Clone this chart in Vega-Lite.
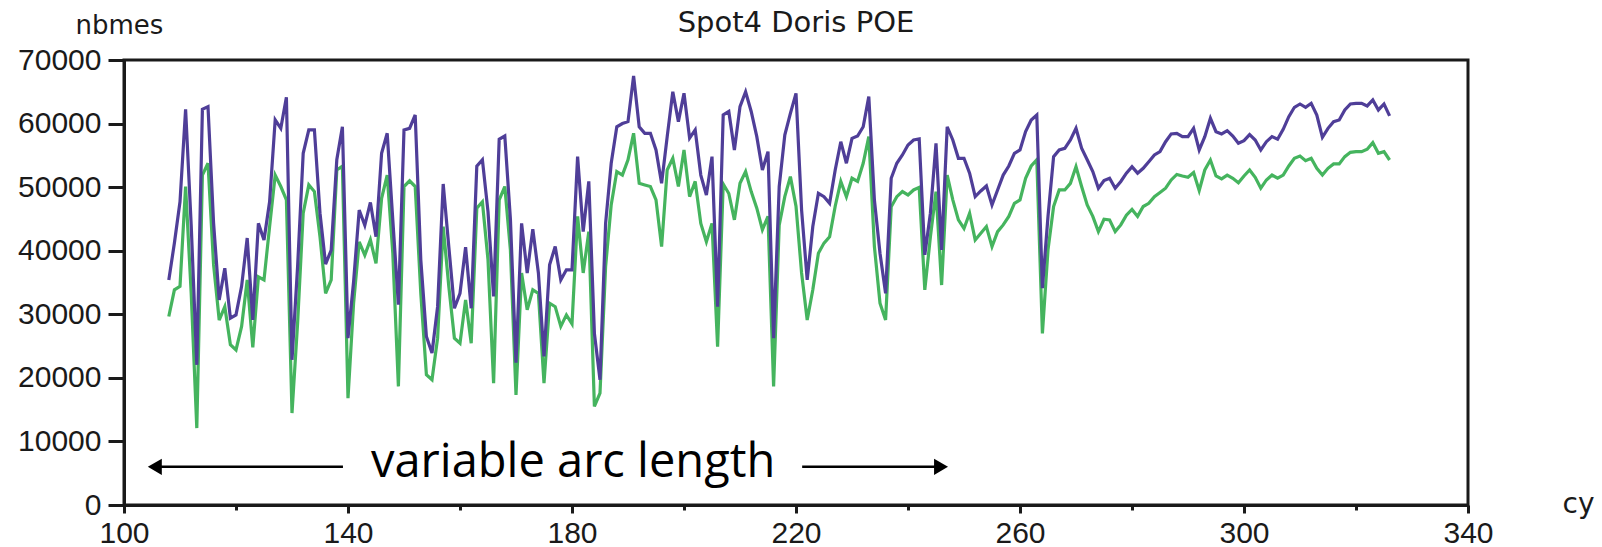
{
  "$schema": "https://vega.github.io/schema/vega-lite/v6.json",
  "autosize": {"type": "none"},
  "padding": {"left": 124, "top": 60, "right": 134, "bottom": 42},
  "width": 1344,
  "height": 445,
  "background": "white",
  "title": {"text": "Spot4 Doris POE", "font": "DejaVu Sans", "fontSize": 29, "fontWeight": "normal", "color": "#1a1a1a", "anchor": "middle", "frame": "group", "offset": 8, "dy": 34},
  "config": {
    "view": {"stroke": "#1a1a1a", "strokeWidth": 3},
    "axis": {"domainColor": "#1a1a1a", "domainWidth": 3, "tickColor": "#1a1a1a", "tickWidth": 3, "labelFont": "Liberation Sans", "labelFontSize": 30, "labelColor": "#1a1a1a", "grid": false, "titleFont": "DejaVu Sans", "titleFontSize": 26, "titleFontWeight": "normal", "titleColor": "#1a1a1a"}
  },
  "datasets": {
    "series": [
      {"cy":108,"p":35400,"g":29650},{"cy":109,"p":41200,"g":33850},{"cy":110,"p":47700,"g":34400},{"cy":111,"p":62250,"g":50100},{"cy":112,"p":44000,"g":33300},{"cy":113,"p":22050,"g":12100},{"cy":114,"p":62250,"g":51900},{"cy":115,"p":62660,"g":53760},{"cy":116,"p":44300,"g":37770},{"cy":117,"p":32270,"g":29100},
      {"cy":118,"p":37250,"g":31200},{"cy":119,"p":29400,"g":25200},{"cy":120,"p":29900,"g":24400},{"cy":121,"p":34400,"g":28100},{"cy":122,"p":42000,"g":35400},{"cy":123,"p":29100,"g":24800},{"cy":124,"p":44300,"g":35900},{"cy":125,"p":41700,"g":35400},{"cy":126,"p":47700,"g":43800},{"cy":127,"p":60600,"g":51900},
      {"cy":128,"p":59250,"g":50100},{"cy":129,"p":64130,"g":48000},{"cy":130,"p":22840,"g":14460},{"cy":131,"p":37500,"g":28600},{"cy":132,"p":55330,"g":45900},{"cy":133,"p":59000,"g":50350},{"cy":134,"p":59000,"g":49300},{"cy":135,"p":45900,"g":42200},{"cy":136,"p":37900,"g":33300},{"cy":137,"p":40100,"g":35400},
      {"cy":138,"p":54300,"g":52700},{"cy":139,"p":59500,"g":53300},{"cy":140,"p":26250,"g":16800},{"cy":141,"p":35150,"g":31750},{"cy":142,"p":46400,"g":41400},{"cy":143,"p":44000,"g":39300},{"cy":144,"p":47600,"g":41700},{"cy":145,"p":42200,"g":38000},{"cy":146,"p":55330,"g":48250},{"cy":147,"p":58470,"g":51900},
      {"cy":148,"p":44850,"g":39600},{"cy":149,"p":31500,"g":18650},{"cy":150,"p":59000,"g":50100},{"cy":151,"p":59250,"g":51000},{"cy":152,"p":61350,"g":50100},{"cy":153,"p":38560,"g":33300},{"cy":154,"p":26500,"g":20500},{"cy":155,"p":23900,"g":19700},{"cy":156,"p":31200,"g":26250},{"cy":157,"p":50500,"g":43800},
      {"cy":158,"p":40650,"g":34400},{"cy":159,"p":30950,"g":26250},{"cy":160,"p":33300,"g":25450},{"cy":161,"p":40550,"g":32270},{"cy":162,"p":30950,"g":25450},{"cy":163,"p":53300,"g":46700},{"cy":164,"p":54300,"g":47700},{"cy":165,"p":46150,"g":38560},{"cy":166,"p":32800,"g":19170},{"cy":167,"p":57530,"g":48000},
      {"cy":168,"p":58050,"g":50100},{"cy":169,"p":45000,"g":40130},{"cy":170,"p":22400,"g":17300},{"cy":171,"p":44300,"g":36500},{"cy":172,"p":36500,"g":30700},{"cy":173,"p":43400,"g":33850},{"cy":174,"p":36500,"g":33300},{"cy":175,"p":23360,"g":19170},{"cy":176,"p":37770,"g":31750},{"cy":177,"p":40650,"g":31200},
      {"cy":178,"p":35400,"g":28100},{"cy":179,"p":37000,"g":29900},{"cy":180,"p":37000,"g":28500},{"cy":181,"p":54800,"g":45400},{"cy":182,"p":43000,"g":36500},{"cy":183,"p":50900,"g":43000},{"cy":184,"p":27000,"g":15500},{"cy":185,"p":19700,"g":17600},{"cy":186,"p":44300,"g":37500},{"cy":187,"p":53760,"g":47200},
      {"cy":188,"p":59500,"g":52450},{"cy":189,"p":60000,"g":51900},{"cy":190,"p":60300,"g":54300},{"cy":191,"p":67500,"g":58470},{"cy":192,"p":59500,"g":50600},{"cy":193,"p":58470,"g":50350},{"cy":194,"p":58470,"g":50100},{"cy":195,"p":55850,"g":48000},{"cy":196,"p":50600,"g":40650},{"cy":197,"p":57940,"g":52700},
      {"cy":198,"p":65000,"g":54540},{"cy":199,"p":60300,"g":50100},{"cy":200,"p":64760,"g":55850},{"cy":201,"p":57700,"g":48500},{"cy":202,"p":59000,"g":50900},{"cy":203,"p":51900,"g":44300},{"cy":204,"p":48770,"g":41400},{"cy":205,"p":54800,"g":44300},{"cy":206,"p":31200,"g":24900},{"cy":207,"p":61350,"g":50500},
      {"cy":208,"p":61900,"g":49000},{"cy":209,"p":55850,"g":44850},{"cy":210,"p":62660,"g":50600},{"cy":211,"p":65000,"g":52450},{"cy":212,"p":61900,"g":49300},{"cy":213,"p":57940,"g":46700},{"cy":214,"p":52700,"g":43300},{"cy":215,"p":55590,"g":45400},{"cy":216,"p":26250,"g":18650},{"cy":217,"p":50100,"g":44000},
      {"cy":218,"p":58200,"g":48500},{"cy":219,"p":61600,"g":51660},{"cy":220,"p":64760,"g":47000},{"cy":221,"p":46400,"g":36500},{"cy":222,"p":35400,"g":29100},{"cy":223,"p":43800,"g":33850},{"cy":224,"p":49030,"g":39600},{"cy":225,"p":48500,"g":41200},{"cy":226,"p":47450,"g":42200},{"cy":227,"p":52700,"g":47000},
      {"cy":228,"p":57150,"g":50900},{"cy":229,"p":53760,"g":48500},{"cy":230,"p":57680,"g":51400},{"cy":231,"p":58050,"g":50900},{"cy":232,"p":59500,"g":53760},{"cy":233,"p":64240,"g":57950},{"cy":234,"p":48000,"g":40650},{"cy":235,"p":39600,"g":31750},{"cy":236,"p":33300,"g":29100},{"cy":237,"p":51400,"g":46900},
      {"cy":238,"p":53760,"g":48500},{"cy":239,"p":55070,"g":49300},{"cy":240,"p":56630,"g":48770},{"cy":241,"p":57420,"g":49560},{"cy":242,"p":57580,"g":49970},{"cy":243,"p":39350,"g":33850},{"cy":244,"p":45900,"g":42200},{"cy":245,"p":56900,"g":49300},{"cy":246,"p":40130,"g":34600},{"cy":247,"p":59500,"g":51900},
      {"cy":248,"p":57420,"g":48000},{"cy":249,"p":54540,"g":44850},{"cy":250,"p":54540,"g":43500},{"cy":251,"p":52200,"g":45900},{"cy":252,"p":48500,"g":41700},{"cy":253,"p":49400,"g":42750},{"cy":254,"p":50190,"g":43800},{"cy":255,"p":47200,"g":40650},{"cy":256,"p":49560,"g":43000},{"cy":257,"p":51900,"g":44060},
      {"cy":258,"p":53330,"g":45400},{"cy":259,"p":55330,"g":47450},{"cy":260,"p":55850,"g":48000},{"cy":261,"p":58730,"g":51400},{"cy":262,"p":60560,"g":53330},{"cy":263,"p":61350,"g":54300},{"cy":264,"p":34100,"g":27000},{"cy":265,"p":45400,"g":40130},{"cy":266,"p":54800,"g":46950},{"cy":267,"p":55850,"g":49560},
      {"cy":268,"p":56110,"g":49560},{"cy":269,"p":57420,"g":50600},{"cy":270,"p":59250,"g":53230},{"cy":271,"p":56110,"g":50100},{"cy":272,"p":54300,"g":47200},{"cy":273,"p":52450,"g":45400},{"cy":274,"p":49830,"g":43000},{"cy":275,"p":51030,"g":44950},{"cy":276,"p":51400,"g":44850},{"cy":277,"p":49830,"g":43000},
      {"cy":278,"p":50900,"g":44060},{"cy":279,"p":52200,"g":45600},{"cy":280,"p":53230,"g":46500},{"cy":281,"p":52200,"g":45400},{"cy":282,"p":52960,"g":46950},{"cy":283,"p":54000,"g":47450},{"cy":284,"p":55060,"g":48500},{"cy":285,"p":55600,"g":49150},{"cy":286,"p":57150,"g":49830},{"cy":287,"p":58370,"g":51130},
      {"cy":288,"p":58470,"g":52000},{"cy":289,"p":57950,"g":51760},{"cy":290,"p":57950,"g":51550},{"cy":291,"p":59250,"g":52300},{"cy":292,"p":55850,"g":49460},{"cy":293,"p":57950,"g":52700},{"cy":294,"p":60830,"g":54270},{"cy":295,"p":58730,"g":51760},{"cy":296,"p":58370,"g":51300},{"cy":297,"p":58890,"g":51900},
      {"cy":298,"p":58050,"g":51400},{"cy":299,"p":56900,"g":50700},{"cy":300,"p":57320,"g":51760},{"cy":301,"p":58260,"g":52700},{"cy":302,"p":57420,"g":51550},{"cy":303,"p":55850,"g":49830},{"cy":304,"p":57150,"g":51130},{"cy":305,"p":57950,"g":51900},{"cy":306,"p":57530,"g":51400},{"cy":307,"p":59100,"g":51900},
      {"cy":308,"p":61090,"g":53330},{"cy":309,"p":62560,"g":54540},{"cy":310,"p":63080,"g":54900},{"cy":311,"p":62560,"g":54170},{"cy":312,"p":63190,"g":54540},{"cy":313,"p":61350,"g":52960},{"cy":314,"p":57840,"g":51900},{"cy":315,"p":59250,"g":52960},{"cy":316,"p":60300,"g":53650},{"cy":317,"p":60560,"g":53650},
      {"cy":318,"p":62140,"g":54800},{"cy":319,"p":63080,"g":55480},{"cy":320,"p":63190,"g":55590},{"cy":321,"p":63190,"g":55590},{"cy":322,"p":62770,"g":55960},{"cy":323,"p":63710,"g":57000},{"cy":324,"p":62140,"g":55330},{"cy":325,"p":63080,"g":55590},{"cy":326,"p":61200,"g":54270}
    ],
    "arrows": [
      {"from": 105.5, "to": 139.1, "head": 105.5, "y": 6000, "dir": "left"},
      {"from": 221.1, "to": 245.9, "head": 245.9, "y": 6000, "dir": "right"}
    ],
    "note": [
      {"x": 180.2, "y": 4400, "label": "variable arc length"}
    ]
  },
  "layer": [
    {
      "data": {"name": "series"},
      "mark": {"type": "line", "color": "#45B45E", "strokeWidth": 3.2, "interpolate": "linear"},
      "encoding": {
        "x": {"field": "cy", "type": "quantitative", "scale": {"domain": [100, 340], "nice": false, "zero": false},
          "axis": {"values": [100,120,140,160,180,200,220,240,260,280,300,320,340], "labelExpr": "(datum.value - 100) % 40 === 0 ? datum.label : ''", "tickSize": {"condition": {"test": "(datum.value - 100) % 40 === 0", "value": 8}, "value": 5}, "labelPadding": 5, "labelFlush": false, "labelOverlap": false, "title": "cy", "titleX": 1438, "titleY": 7, "titleAlign": "left", "titleBaseline": "alphabetic", "titleFontSize": 28}},
        "y": {"field": "g", "type": "quantitative", "scale": {"domain": [0, 70000], "nice": false},
          "axis": {"values": [0,5000,10000,15000,20000,25000,30000,35000,40000,45000,50000,55000,60000,65000,70000], "format": "d", "labelExpr": "datum.value % 10000 === 0 ? datum.label : ''", "tickSize": {"condition": {"test": "datum.value % 10000 === 0", "value": 16}, "value": 10}, "labelPadding": 7, "labelFlush": false, "labelOverlap": false, "title": "nbmes", "titleAngle": 0, "titleX": -49, "titleY": -27, "titleAlign": "left", "titleBaseline": "alphabetic"}}
      }
    },
    {
      "data": {"name": "series"},
      "mark": {"type": "line", "color": "#4F3E98", "strokeWidth": 3.2, "interpolate": "linear"},
      "encoding": {
        "x": {"field": "cy", "type": "quantitative"},
        "y": {"field": "p", "type": "quantitative"}
      }
    },
    {
      "data": {"name": "arrows"},
      "mark": {"type": "rule", "color": "#000000", "strokeWidth": 2.5},
      "encoding": {
        "x": {"field": "from", "type": "quantitative"},
        "x2": {"field": "to"},
        "y": {"field": "y", "type": "quantitative"}
      }
    },
    {
      "data": {"name": "arrows"},
      "mark": {"type": "point", "filled": true, "color": "#000000", "size": 260, "opacity": 1},
      "encoding": {
        "x": {"field": "head", "type": "quantitative"},
        "y": {"field": "y", "type": "quantitative"},
        "shape": {"field": "dir", "type": "nominal", "scale": {"domain": ["left", "right"], "range": ["triangle-left", "triangle-right"]}, "legend": null}
      }
    },
    {
      "data": {"name": "note"},
      "mark": {"type": "text", "font": "Open Sans", "fontSize": 47, "fontWeight": 500, "align": "center", "baseline": "alphabetic", "color": "#000000"},
      "encoding": {
        "x": {"field": "x", "type": "quantitative"},
        "y": {"field": "y", "type": "quantitative"},
        "text": {"field": "label"}
      }
    }
  ]
}
